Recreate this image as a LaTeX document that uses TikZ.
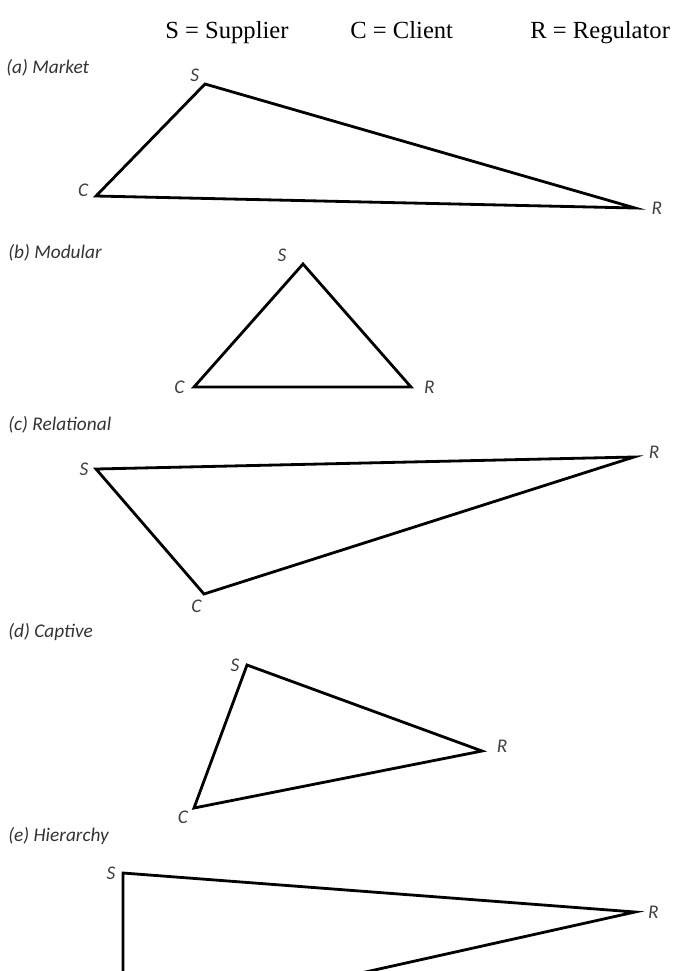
\documentclass[tikz,border=0pt]{standalone}
\usepackage{fontspec}
\setmainfont{Liberation Serif}
\newfontfamily\lblfont{Carlito}
\usetikzlibrary{positioning}

\begin{document}
\begin{tikzpicture}[
    x=0.02cm, y=-0.02cm,
    node distance=2pt,
    vertex/.style={inner sep=0pt, minimum size=0pt},
    side/.style={line width=1.6pt, line join=miter, black},
    corner/.style={font=\lblfont\itshape\fontsize{11}{13}\selectfont, text=black!75, inner sep=1pt},
    case/.style={font=\lblfont\itshape\fontsize{11}{13}\selectfont, text=black!80, anchor=base west, inner sep=0pt},
    legend/.style={font=\fontsize{14}{16}\selectfont, anchor=base west, inner sep=0pt}
]
    \useasboundingbox (0,0) rectangle (686,971);
    \clip (0,0) rectangle (686,971);

    % legend
    \node[legend] (keyS) at (165,38) {S = Supplier};
    \node[legend] (keyC) at (350,38) {C = Client};
    \node[legend] (keyR) at (530,38) {R = Regulator};

    % (a) market
    \node[case] (caseA) at (6,73) {(a) Market};
    \node[vertex] (s1) at (205,84) {};
    \node[vertex] (c1) at (96,196) {};
    \node[vertex] (r1) at (635,208) {};
    \node[corner, above left=0pt and 2pt of s1] (s1l) {S};
    \node[corner, above left=-2pt and 3pt of c1] (c1l) {C};
    \node[corner, right=8pt of r1] (r1l) {R};
    \draw[side] (s1.center) -- (r1.center) -- (c1.center) -- cycle;

    % (b) modular
    \node[case] (caseB) at (8,258) {(b) Modular};
    \node[vertex] (s2) at (303,264) {};
    \node[vertex] (c2) at (194,387) {};
    \node[vertex] (r2) at (411,387) {};
    \node[corner, above left=0pt and 8pt of s2] (s2l) {S};
    \node[corner, left=4pt of c2] (c2l) {C};
    \node[corner, right=6pt of r2] (r2l) {R};
    \draw[side] (s2.center) -- (r2.center) -- (c2.center) -- cycle;

    % (c) relational
    \node[case] (caseC) at (8,430) {(c) Relational};
    \node[vertex] (s3) at (96,469) {};
    \node[vertex] (r3) at (634,457) {};
    \node[vertex] (c3) at (204,594) {};
    \node[corner, left=3pt of s3] (s3l) {S};
    \node[corner, below left=2pt and 0pt of c3] (c3l) {C};
    \node[corner, above right=-2pt and 7pt of r3] (r3l) {R};
    \draw[side] (s3.center) -- (r3.center) -- (c3.center) -- cycle;

    % (d) captive
    \node[case] (caseD) at (8,637) {(d) Captive};
    \node[vertex] (s4) at (247,665) {};
    \node[vertex] (r4) at (482,751) {};
    \node[vertex] (c4) at (194,808) {};
    \node[corner, left=3pt of s4] (s4l) {S};
    \node[corner, below left=0pt and 2pt of c4] (c4l) {C};
    \node[corner, above right=-2pt and 7pt of r4] (r4l) {R};
    \draw[side] (s4.center) -- (r4.center) -- (c4.center) -- cycle;

    % (e) hierarchy, runs off the page
    \node[case] (caseE) at (8,841) {(e) Hierarchy};
    \node[vertex] (s5) at (123,873) {};
    \node[vertex] (r5) at (635,912) {};
    \coordinate (c5) at (123,1026);
    \node[corner, left=3pt of s5] (s5l) {S};
    \node[corner, right=6pt of r5] (r5l) {R};
    \draw[side] (s5.center) -- (r5.center) -- (c5) -- cycle;
\end{tikzpicture}
\end{document}
